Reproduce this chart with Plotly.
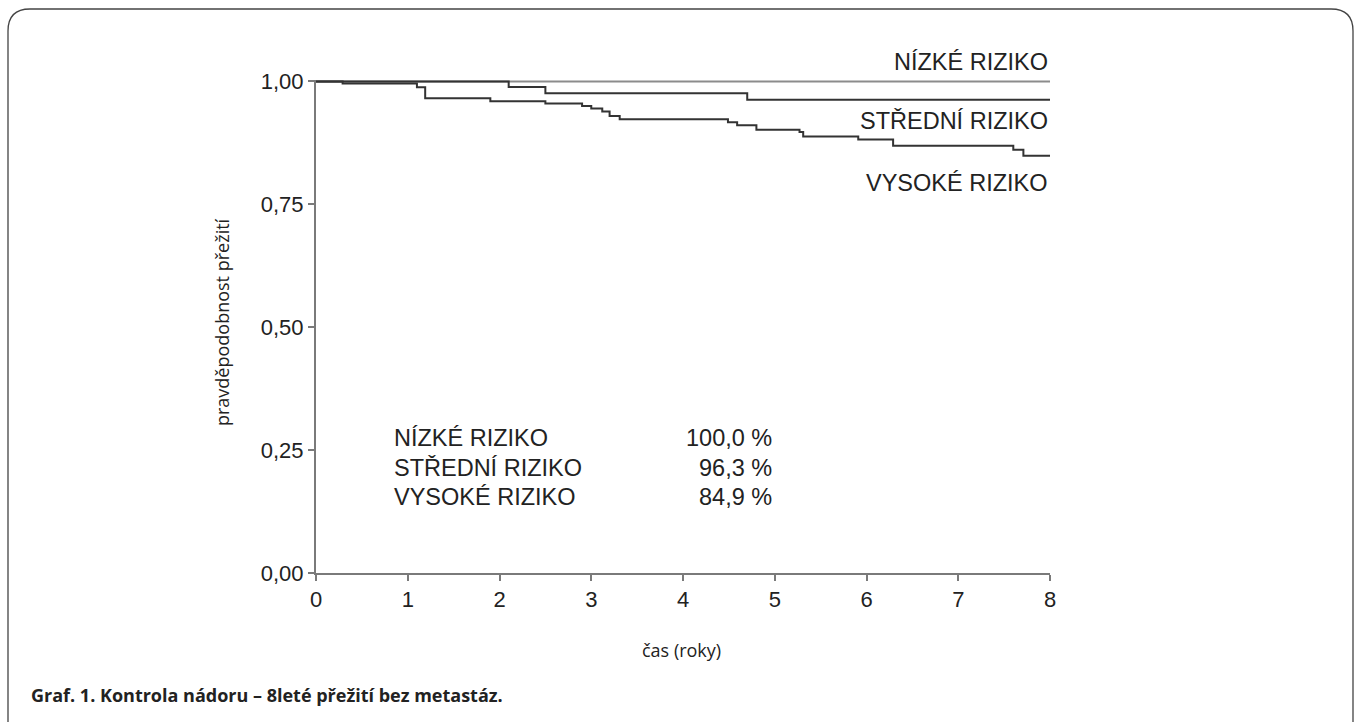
import plotly.graph_objects as go

# Kaplan-Meier survival curves (time in years, survival probability)
nizke_t = [0.0, 8.0]
nizke_s = [1.000, 1.000]

stredni_t = [0.0, 2.10, 2.50, 4.70, 8.0]
stredni_s = [1.000, 0.989, 0.976, 0.963, 0.963]

vysoke_t = [0.0, 0.29, 1.10, 1.19, 1.90, 2.50, 2.90, 3.00, 3.12, 3.20, 3.31,
            4.49, 4.59, 4.80, 5.27, 5.31, 5.91, 6.29, 7.60, 7.71, 8.0]
vysoke_s = [1.000, 0.996, 0.988, 0.966, 0.960, 0.955, 0.950, 0.945, 0.939, 0.930, 0.923,
            0.917, 0.911, 0.902, 0.897, 0.888, 0.882, 0.869, 0.861, 0.849, 0.849]

group_names = ["NÍZKÉ RIZIKO", "STŘEDNÍ RIZIKO", "VYSOKÉ RIZIKO"]
x_ticks = [0, 1, 2, 3, 4, 5, 6, 7, 8]
y_ticks = [0.0, 0.25, 0.50, 0.75, 1.00]

W, H = 1356, 722
ML, MR, MT, MB = 316, 306, 80, 149
PW, PH = W - ML - MR, H - MT - MB


def px(x):
    return (x - ML) / PW


def py(y):
    return (H - MB - y) / PH


fig = go.Figure()
series = [
    (nizke_t, nizke_s, "#8c8c8c"),
    (stredni_t, stredni_s, "#333333"),
    (vysoke_t, vysoke_s, "#333333"),
]
for name, (t, s, col) in zip(group_names, series):
    fig.add_trace(go.Scatter(x=t, y=s, mode="lines", name=name,
                             line=dict(color=col, width=2, shape="hv"),
                             showlegend=False, hoverinfo="skip"))

label_font = dict(family="Liberation Sans, Arial, sans-serif", size=23.5, color="#222222")
annotations = []

# curve labels on the right
for name, yc in zip(group_names, [62.5, 120.5, 182.5]):
    annotations.append(dict(x=1.0, y=py(yc), xref="paper", yref="paper", text=name,
                            showarrow=False, xanchor="right", yanchor="middle",
                            font=label_font))

# final survival table
finals = [nizke_s[-1], stredni_s[-1], vysoke_s[-1]]
for i, (name, v) in enumerate(zip(group_names, finals)):
    yc = 438 + i * 29.5
    annotations.append(dict(x=px(392), y=py(yc), xref="paper", yref="paper", text=name,
                            showarrow=False, xanchor="left", yanchor="middle",
                            font=label_font))
    pct = f"{v * 100:.1f}".replace(".", ",") + " %"
    annotations.append(dict(x=px(774), y=py(yc), xref="paper", yref="paper", text=pct,
                            showarrow=False, xanchor="right", yanchor="middle",
                            font=label_font))

# axis titles and caption
annotations.append(dict(x=px(222), y=py(322), xref="paper", yref="paper",
                        text="pravděpodobnost přežití", textangle=-90, showarrow=False,
                        xanchor="center", yanchor="middle",
                        font=dict(family="Open Sans, sans-serif", size=18, color="#222222")))
annotations.append(dict(x=px(681), y=py(650), xref="paper", yref="paper",
                        text="čas (roky)", showarrow=False,
                        xanchor="center", yanchor="middle",
                        font=dict(family="Open Sans, sans-serif", size=18, color="#222222")))
annotations.append(dict(x=px(29), y=py(695), xref="paper", yref="paper",
                        text="<b>Graf. 1. Kontrola nádoru – 8leté přežití bez metastáz.</b>",
                        showarrow=False, xanchor="left", yanchor="middle",
                        font=dict(family="Open Sans, sans-serif", size=18, color="#222222")))

# rounded frame around the figure
x0, x1, y0, y1, r = 8, 1353, 9, 745, 22
path = (f"M {px(x0)},{py(y0 + r)} "
        f"Q {px(x0)},{py(y0)} {px(x0 + r)},{py(y0)} "
        f"L {px(x1 - r)},{py(y0)} "
        f"Q {px(x1)},{py(y0)} {px(x1)},{py(y0 + r)} "
        f"L {px(x1)},{py(y1 - r)} "
        f"Q {px(x1)},{py(y1)} {px(x1 - r)},{py(y1)} "
        f"L {px(x0 + r)},{py(y1)} "
        f"Q {px(x0)},{py(y1)} {px(x0)},{py(y1 - r)} Z")
shapes = [dict(type="path", path=path, xref="paper", yref="paper",
               line=dict(color="#444444", width=1.3), layer="below")]

axis_common = dict(showline=True, linecolor="#7a7a7a", linewidth=2,
                   ticks="outside", ticklen=6, tickwidth=1.5, tickcolor="#7a7a7a",
                   showgrid=False, zeroline=False,
                   tickfont=dict(family="Liberation Sans, Arial, sans-serif", size=22,
                                 color="#222222"))

fig.update_layout(
    width=W, height=H,
    margin=dict(l=ML, r=MR, t=MT, b=MB, autoexpand=False),
    paper_bgcolor="white", plot_bgcolor="white",
    separators=", ",
    xaxis=dict(range=[0, 8], tickvals=x_ticks, ticktext=[str(v) for v in x_ticks],
               **axis_common),
    yaxis=dict(range=[0, 1.003], tickvals=y_ticks,
               ticktext=[f"{v:.2f}".replace(".", ",") for v in y_ticks],
               **axis_common),
    annotations=annotations,
    shapes=shapes,
)

fig.write_html("out.html")
